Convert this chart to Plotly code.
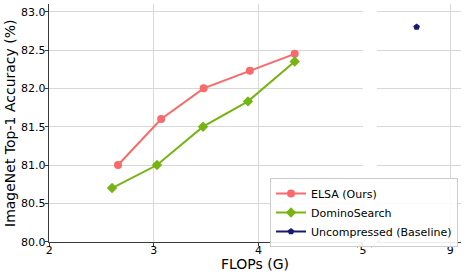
import plotly.graph_objects as go

# Data
elsa_flops = [2.657, 3.07, 3.476, 3.918, 4.347]
elsa_acc = [81.0, 81.6, 82.0, 82.23, 82.45]
domino_flops = [2.60, 3.03, 3.47, 3.90, 4.347]
domino_acc = [80.7, 81.0, 81.5, 81.83, 82.35]
base_flops = [8.68]
base_acc = [82.8]

left_ticks = [2, 3, 4, 5]
right_ticks = [9]
y_ticks = [80.0, 80.5, 81.0, 81.5, 82.0, 82.5, 83.0]

W, H = 465, 276
FONT = "DejaVu Sans"

c_elsa = "#fb6a6a"
c_dom = "#76b414"
c_base = "#191970"

def px(x):
    return x / W

def py(y):
    return 1 - y / H

fig = go.Figure()
fig.add_trace(go.Scatter(x=elsa_flops, y=elsa_acc, mode="lines+markers", name="ELSA (Ours)",
                         line=dict(color=c_elsa, width=2),
                         marker=dict(symbol="circle", size=8, color=c_elsa),
                         xaxis="x", yaxis="y"))
fig.add_trace(go.Scatter(x=domino_flops, y=domino_acc, mode="lines+markers", name="DominoSearch",
                         line=dict(color=c_dom, width=2),
                         marker=dict(symbol="diamond", size=8, color=c_dom),
                         xaxis="x", yaxis="y"))
fig.add_trace(go.Scatter(x=base_flops, y=base_acc, mode="lines+markers", name="Uncompressed (Baseline)",
                         line=dict(color=c_base, width=2),
                         marker=dict(symbol="pentagon", size=7, color=c_base),
                         xaxis="x2", yaxis="y2"))

grid = "#d8d8d8"
spine = "#3a3a3a"
yd = [py(241.7), py(4)]

fig.update_layout(
    width=W, height=H,
    margin=dict(l=0, r=0, t=0, b=0),
    paper_bgcolor="white", plot_bgcolor="white",
    font=dict(family=FONT, size=11, color="black"),
    xaxis=dict(domain=[px(49.3), px(363.3)], range=[2, 5.003], tickvals=left_ticks,
               ticktext=[str(t) for t in left_ticks],
               showgrid=True, gridcolor=grid, gridwidth=1.2,
               showline=True, linecolor=spine, linewidth=1.2,
               ticks="outside", ticklen=3.5, tickcolor=spine, zeroline=False,
               ticklabelstandoff=-6,
               automargin=False, anchor="y"),
    yaxis=dict(domain=yd, range=[80.0, 83.1], tickvals=y_ticks,
               ticktext=[f"{v:.1f}" for v in y_ticks],
               showgrid=True, gridcolor=grid, gridwidth=1.2,
               showline=True, linecolor=spine, linewidth=1.2,
               ticks="outside", ticklen=3.5, tickcolor=spine, zeroline=False,
               ticklabelstandoff=-3,
               automargin=False, anchor="x"),
    xaxis2=dict(domain=[px(376.7), px(460.7)], range=[8.30, 9.10], tickvals=right_ticks,
                ticktext=[str(t) for t in right_ticks],
                showgrid=True, gridcolor=grid, gridwidth=1.2,
                showline=True, linecolor=spine, linewidth=1.2,
                ticks="outside", ticklen=3.5, tickcolor=spine, zeroline=False,
                ticklabelstandoff=-6,
                automargin=False, anchor="y2"),
    yaxis2=dict(domain=yd, range=[80.0, 83.1], tickvals=y_ticks,
                showgrid=True, gridcolor=grid, gridwidth=1.2,
                showline=False, showticklabels=False, ticks="", zeroline=False,
                automargin=False, anchor="x2"),
    legend=dict(x=px(270), y=py(178), xanchor="left", yanchor="top",
                bgcolor="rgba(255,255,255,0.9)", bordercolor="#cccccc", borderwidth=1,
                font=dict(family=FONT, size=11, color="black"),
                tracegroupgap=0),
    showlegend=True,
)

fig.add_annotation(text="FLOPs (G)", xref="paper", yref="paper", x=px(255), y=py(264),
                   xanchor="center", yanchor="middle", showarrow=False,
                   font=dict(family=FONT, size=14, color="black"))
fig.add_annotation(text="ImageNet Top-1 Accuracy (%)", xref="paper", yref="paper", x=px(10), y=py(123),
                   xanchor="center", yanchor="middle", showarrow=False, textangle=-90,
                   font=dict(family=FONT, size=14, color="black"))

# axis break marks
for (x0, y0, x1, y1) in [(357.3, 247.3, 368.3, 237.3), (371.7, 247.3, 382.3, 237.3)]:
    fig.add_shape(type="line", xref="paper", yref="paper",
                  x0=px(x0), y0=py(y0), x1=px(x1), y1=py(y1),
                  line=dict(color="#555555", width=1))

fig.write_html("out.html", config={"displayModeBar": False},
               post_script="document.body.style.margin='0';document.body.style.overflow='hidden';")
